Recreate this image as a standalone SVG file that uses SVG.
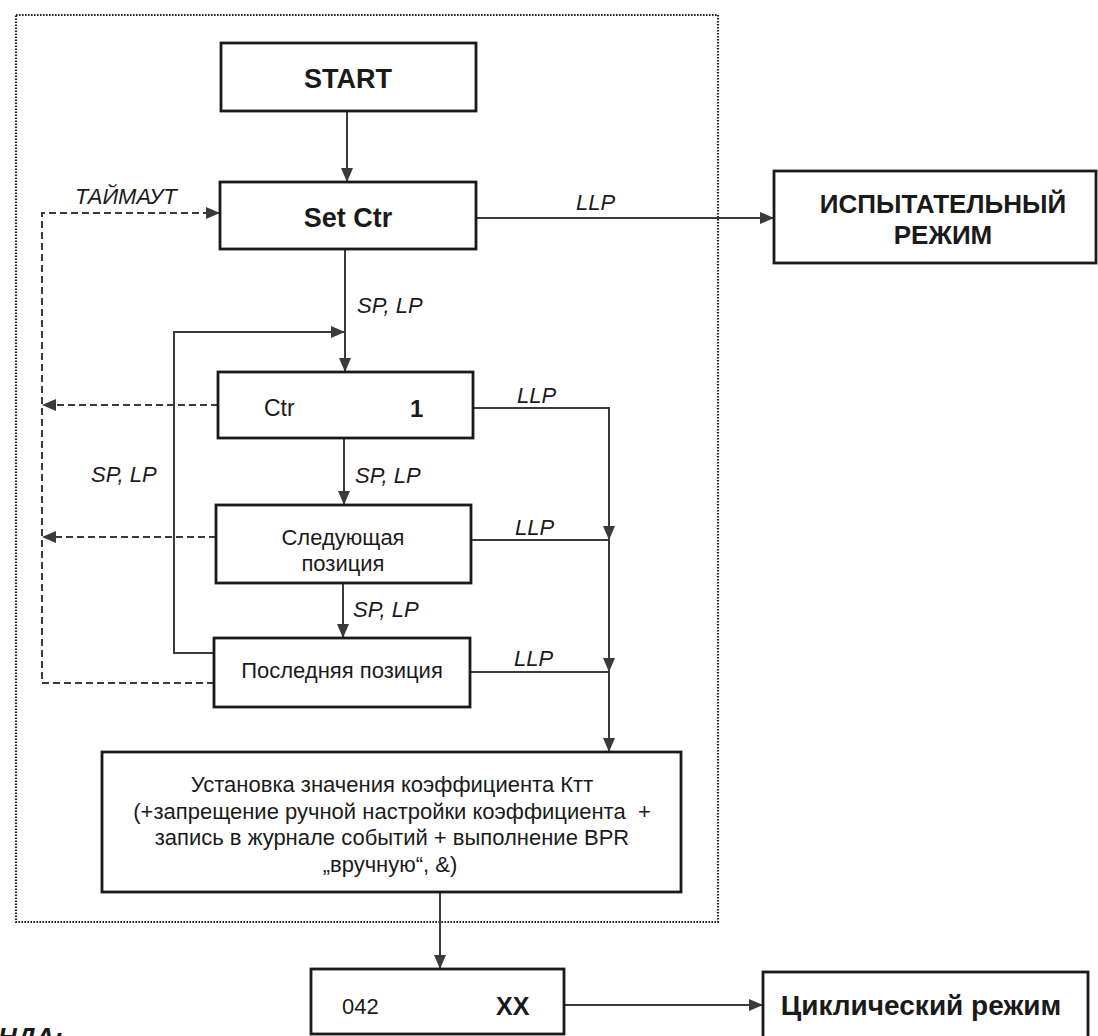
<svg xmlns="http://www.w3.org/2000/svg" width="1098" height="1036" viewBox="0 0 1098 1036">
<style>
.box{fill:#ffffff;stroke:#1a1a1a;stroke-width:2.8}
.ln{fill:none;stroke:#3a3a3a;stroke-width:2}
.dash{fill:none;stroke:#3a3a3a;stroke-width:2;stroke-dasharray:7 4}
.dot{fill:none;stroke:#222;stroke-width:2.2;stroke-dasharray:1.6 1.4}
.t{font-family:"Liberation Sans",Arial,sans-serif;fill:#1a1a1a}
.b{font-weight:bold}
.lab{font-family:"Liberation Sans",Arial,sans-serif;font-style:italic;font-size:22px;fill:#1a1a1a}
</style>
<defs>
<marker id="ah" markerUnits="userSpaceOnUse" markerWidth="14" markerHeight="12" refX="14" refY="6" orient="auto">
<path d="M0,0 L14,6 L0,12 z" fill="#3a3a3a"/>
</marker>
</defs>
<rect class="dot" x="16" y="15" width="702" height="907"/>
<g id="connectors">
<line class="ln" x1="347" y1="111" x2="347" y2="182" marker-end="url(#ah)"/>
<line class="ln" x1="476" y1="218" x2="774" y2="218" marker-end="url(#ah)"/>
<line class="ln" x1="345" y1="249" x2="345" y2="372" marker-end="url(#ah)"/>
<path class="ln" d="M214,653 H174 V332 H345" marker-end="url(#ah)"/>
<line class="ln" x1="344" y1="438" x2="344" y2="505" marker-end="url(#ah)"/>
<line class="ln" x1="343" y1="583" x2="343" y2="638" marker-end="url(#ah)"/>
<line class="dash" x1="218" y1="405" x2="42" y2="405" marker-end="url(#ah)"/>
<line class="dash" x1="216" y1="537" x2="42" y2="537" marker-end="url(#ah)"/>
<path class="dash" d="M214,683 H42 V213 H220" marker-end="url(#ah)"/>
<path class="ln" d="M473,408 H609 V540" marker-end="url(#ah)"/>
<line class="ln" x1="471" y1="540" x2="609" y2="540"/>
<line class="ln" x1="609" y1="540" x2="609" y2="672" marker-end="url(#ah)"/>
<line class="ln" x1="470" y1="672" x2="609" y2="672"/>
<line class="ln" x1="609" y1="672" x2="609" y2="752" marker-end="url(#ah)"/>
<line class="ln" x1="440" y1="892" x2="440" y2="969" marker-end="url(#ah)"/>
<line class="ln" x1="564" y1="1005" x2="763" y2="1005" marker-end="url(#ah)"/>
<text class="lab" x="576" y="210">LLP</text>
<text class="lab" x="357" y="313">SP, LP</text>
<text class="lab" x="355" y="483">SP, LP</text>
<text class="lab" x="353" y="617">SP, LP</text>
<text class="lab" x="91" y="482">SP, LP</text>
<text class="lab" x="75" y="204">ТАЙМАУТ</text>
<text class="lab" x="517" y="403">LLP</text>
<text class="lab" x="515" y="535">LLP</text>
<text class="lab" x="514" y="666">LLP</text>
</g>
<g id="start">
<rect class="box" x="221" y="43" width="255" height="68"/>
<text class="t b" x="348" y="88" font-size="27" text-anchor="middle">START</text>
</g>
<g id="setctr">
<rect class="box" x="220" y="182" width="256" height="67"/>
<text class="t b" x="348" y="227" font-size="27" text-anchor="middle">Set Ctr</text>
</g>
<g id="test-mode">
<rect class="box" x="774" y="171" width="322" height="92"/>
<text class="t b" x="943" y="213" font-size="26" text-anchor="middle">ИСПЫТАТЕЛЬНЫЙ</text>
<text class="t b" x="943" y="244" font-size="26" text-anchor="middle">РЕЖИМ</text>
</g>
<g id="ctr">
<rect class="box" x="218" y="372" width="255" height="66"/>
<text class="t" x="264" y="416" font-size="23">Ctr</text>
<text class="t b" x="410" y="417" font-size="24">1</text>
</g>
<g id="next">
<rect class="box" x="216" y="505" width="255" height="78"/>
<text class="t" x="343" y="545" font-size="22" text-anchor="middle">Следующая</text>
<text class="t" x="343" y="571" font-size="22" text-anchor="middle">позиция</text>
</g>
<g id="last">
<rect class="box" x="214" y="638" width="256" height="69"/>
<text class="t" x="342" y="678" font-size="22" text-anchor="middle">Последняя позиция</text>
</g>
<g id="set-ktt">
<rect class="box" x="102" y="752" width="579" height="140"/>
<text class="t" x="392" y="792" font-size="22" text-anchor="middle">Установка значения коэффициента Ктт</text>
<text class="t" x="392" y="819" font-size="22" text-anchor="middle" xml:space="preserve">(+запрещение ручной настройки коэффициента  +</text>
<text class="t" x="392" y="845" font-size="22" text-anchor="middle">запись в журнале событий + выполнение BPR</text>
<text class="t" x="390" y="872" font-size="22" text-anchor="middle">„вручную“, &amp;)</text>
</g>
<g id="code042">
<rect class="box" x="311" y="969" width="253" height="65"/>
<text class="t" x="342" y="1014" font-size="22">042</text>
<text class="t b" x="496" y="1015" font-size="25">XX</text>
</g>
<g id="cyclic">
<rect class="box" x="763" y="972" width="325" height="80"/>
<text class="t b" x="921" y="1015" font-size="28" text-anchor="middle">Циклический режим</text>
</g>
<text class="t b" x="-2" y="1046" font-size="26" font-style="italic">НДА:</text>
</svg>
